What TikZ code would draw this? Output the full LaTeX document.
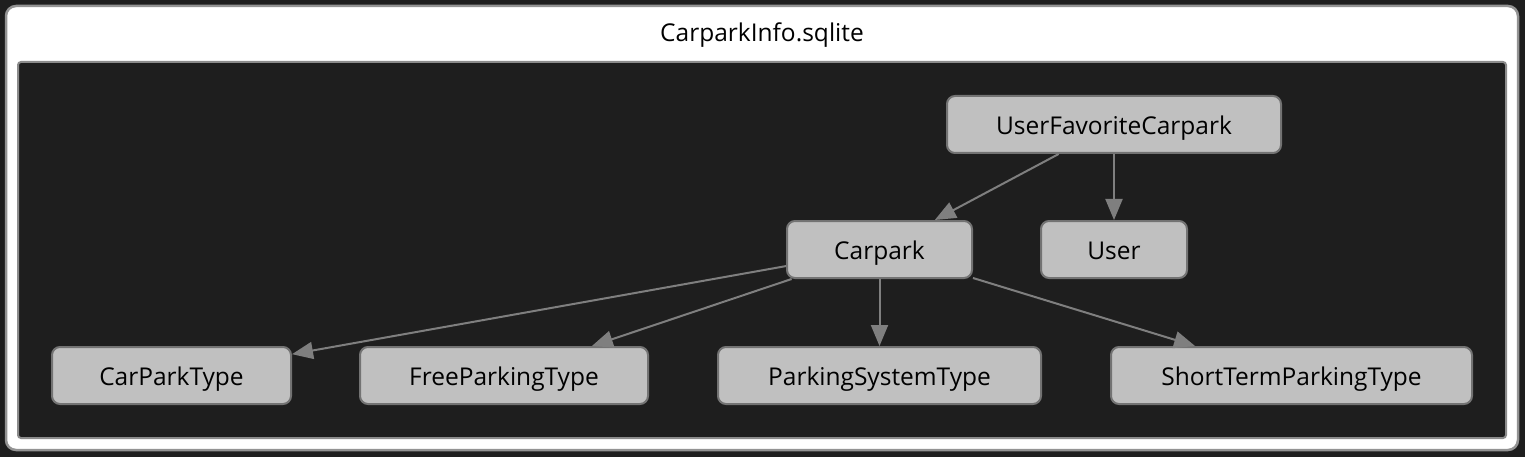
\documentclass[tikz,border=0pt]{standalone}
\usepackage{fontspec}
\setmainfont{Open Sans}
\usetikzlibrary{arrows.meta}
\definecolor{bgdark}{HTML}{1E1E1E}
\definecolor{nodefill}{HTML}{C0C0C0}
\definecolor{nodeborder}{HTML}{737373}
\definecolor{edgecol}{HTML}{7F7F7F}
\tikzset{
  tbl/.style={draw=nodeborder, line width=2pt, fill=nodefill, rounded corners=8pt,
    minimum height=57pt, inner sep=0pt, text height=22pt, text depth=2pt,
    font=\fontsize{24.5}{28}\selectfont, text=black},
  rel/.style={draw=edgecol, line width=2pt, -{Triangle[length=21pt,width=17pt]}}
}
\begin{document}
\begin{tikzpicture}[x=1pt,y=-1pt]
\fill[bgdark] (0,0) rectangle (1525,457);
\useasboundingbox (0,0) rectangle (1525,457);
\draw[draw=gray!85, line width=2.5pt, fill=white, rounded corners=10pt] (6,6) rectangle (1518,450);
\node[font=\fontsize{24.5}{28}\selectfont, inner sep=0pt, text height=18pt, text depth=2pt] (title) at (762,34) {CarparkInfo.sqlite};
\draw[draw=gray!90, line width=2pt, fill=bgdark, rounded corners=3pt] (18,62) rectangle (1506,438);

\node[tbl, minimum width=334pt] (ufc) at (1114,124.5) {UserFavoriteCarpark};
\node[tbl, minimum width=185pt] (carpark) at (879.5,249.5) {Carpark};
\node[tbl, minimum width=146pt] (user) at (1114,249.5) {User};
\node[tbl, minimum width=239pt] (cpt) at (171.5,375.5) {CarParkType};
\node[tbl, minimum width=288pt] (fpt) at (504,375.5) {FreeParkingType};
\node[tbl, minimum width=323pt] (pst) at (879.5,375.5) {ParkingSystemType};
\node[tbl, minimum width=361pt] (stpt) at (1291.5,375.5) {ShortTermParkingType};

\draw[rel] (ufc) -- (carpark);
\draw[rel] (ufc) -- (user);
\draw[rel] (carpark) -- (cpt);
\draw[rel] (carpark) -- (fpt);
\draw[rel] (carpark) -- (pst);
\draw[rel] (carpark) -- (stpt);
\end{tikzpicture}
\end{document}
